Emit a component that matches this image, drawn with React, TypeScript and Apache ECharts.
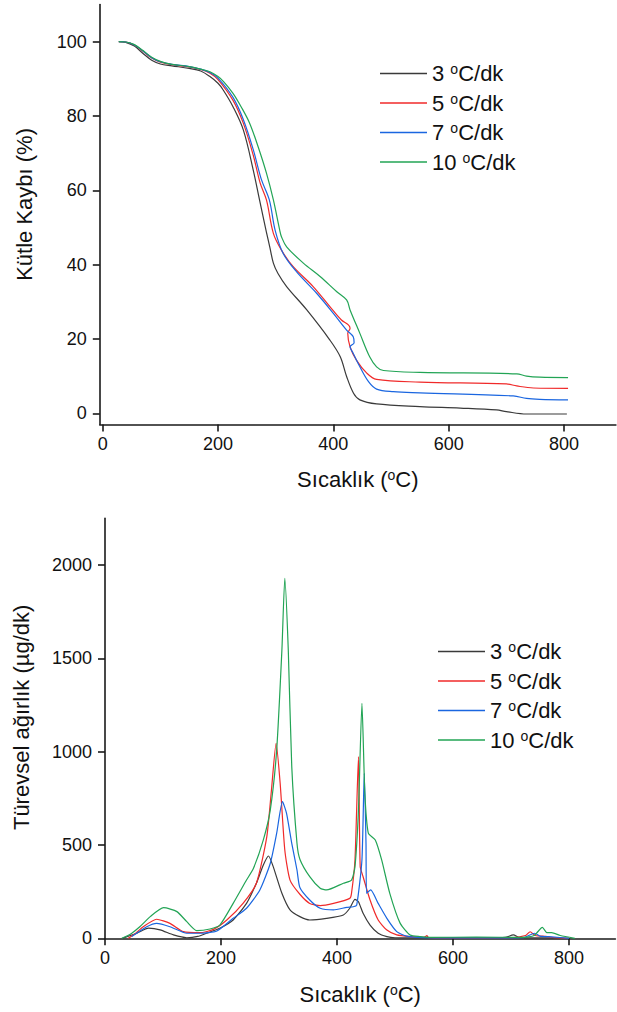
import React, { useEffect, useRef } from "react";
import * as echarts from "echarts";

// ---------- data ----------
const rateNames = ["3", "5", "7", "10"];
const lineColors = ["#3a3a3a", "#f02a2a", "#1a66e0", "#22a455"];

const xTicks = [0, 200, 400, 600, 800];
const tgaYTicks = [0, 20, 40, 60, 80, 100];
const dtgYTicks = [0, 500, 1000, 1500, 2000];

// TGA, mass loss (%)
const tga3: [number, number][] = [
  [28, 100], [40, 99.8], [55, 98.8], [70, 96.8], [85, 95.0], [100, 94.0], [120, 93.5], [150, 92.8],
  [170, 92.1], [186, 90.6], [200, 88.8], [209, 87.0], [226, 82.5], [244, 76.2], [261, 65.5], [272, 57.4],
  [284, 48.7], [290, 44.6], [296, 40.4], [304, 37.6], [319, 34.1], [354, 27.8], [394, 19.7], [412, 15.2], [423, 9.9],
  [435, 5.4], [446, 3.6], [475, 2.5], [550, 1.8], [620, 1.4], [683, 0.9], [700, 0.44], [735, -0.2], [805, -0.2],
];
const tga5: [number, number][] = [
  [28, 100], [40, 99.9], [55, 99.1], [70, 97.4], [85, 95.6], [100, 94.5], [120, 93.8], [150, 93.2],
  [170, 92.5], [186, 91.5], [200, 89.8], [226, 84.2], [244, 78.0], [261, 69.5], [273, 62.0], [284, 57.4],
  [296, 48.4], [310, 43.9], [330, 39.5], [365, 34.1], [394, 28.7], [414, 25.1], [426, 23.8], [429, 22.9],
  [425, 21.5], [429, 17.9], [440, 14.3], [458, 10.8], [475, 9.1], [550, 8.4], [700, 7.9], [718, 7.35],
  [747, 6.8], [807, 6.7],
];
const tga7: [number, number][] = [
  [28, 100], [40, 99.9], [55, 99.1], [70, 97.5], [85, 95.7], [100, 94.6], [120, 93.9], [150, 93.3],
  [170, 92.6], [186, 91.7], [200, 90.2], [226, 85.0], [244, 79.0], [261, 71.0], [275, 63.0], [289, 57.4],
  [299, 49.3], [313, 43.0], [336, 38.1], [371, 32.3], [400, 26.9], [423, 22.4], [434.5, 20.6], [436, 19.0],
  [429, 17.9], [434.5, 16.1], [446, 12.5], [461, 8.5], [475, 6.5], [504, 5.8], [550, 5.5], [712, 4.66],
  [735, 4.0], [758, 3.76], [807, 3.6],
];
const tga10: [number, number][] = [
  [28, 100], [40, 99.9], [55, 99.2], [70, 97.6], [85, 95.8], [100, 94.7], [120, 93.9], [150, 93.3],
  [170, 92.6], [186, 91.9], [200, 90.6], [210, 89.2], [226, 86.1], [240, 82.5], [255, 78.0], [270, 71.5],
  [284, 64.6], [296, 57.4], [307, 49.3], [310, 47.5], [319, 44.8], [348, 40.4], [377, 36.8], [406, 32.7],
  [423, 30.5], [429, 27.8], [446, 21.5], [463, 15.2], [475, 12.5], [487, 11.5], [550, 11.0], [718, 10.6],
  [735, 10.0], [758, 9.7], [807, 9.6],
];

// DTG, derivative weight (µg/dk)
const dtg3: [number, number][] = [
  [30, 0], [33, 3], [55, 27], [75, 54], [95, 45], [118, 18], [141, 3], [160, 10], [175, 27], [198, 54],
  [221, 98], [244, 187], [261, 295], [273, 393], [282, 441], [290, 384], [305, 241], [319, 152], [336, 116],
  [353, 98], [382, 107], [411, 125], [422, 161], [431, 209], [437, 196], [445, 134], [457, 71], [471, 27],
  [486, 9], [500, 3], [550, 2], [650, 3], [690, 5], [704, 18], [715, 4], [760, 2], [800, 0],
];
const dtg5: [number, number][] = [
  [40, 0], [50, 20], [66, 62], [89, 102], [112, 80], [135, 36], [164, 30], [187, 48], [210, 98], [238, 187],
  [261, 295], [279, 545], [287, 795], [295, 1045], [302, 831], [310, 473], [319, 312], [336, 236], [353, 187],
  [371, 175], [394, 187], [422, 214], [425, 241], [431, 420], [437, 973], [440, 384], [445, 330], [457, 205],
  [471, 98], [486, 44], [503, 18], [526, 9], [550, 5], [555, 14], [558, 3], [600, 2], [700, 3], [725, 15],
  [733, 35], [742, 15], [760, 10], [775, 3], [800, 0],
];
const dtg7: [number, number][] = [
  [46, 9], [52, 22], [72, 62], [89, 80], [112, 62], [141, 27], [164, 27], [193, 39], [221, 107], [244, 161],
  [267, 259], [285, 402], [296, 563], [306, 732], [313, 670], [322, 509], [331, 366], [336, 272], [353, 205],
  [371, 161], [394, 152], [417, 166], [428, 169], [434, 178], [443, 420], [447, 884], [450, 509], [451, 241],
  [458, 259], [471, 187], [486, 107], [503, 36], [520, 12], [550, 4], [650, 2], [720, 3], [741, 27], [750, 12],
  [770, 8], [800, 0],
];
const dtg10: [number, number][] = [
  [29, 0], [45, 25], [60, 62], [78, 116], [101, 164], [124, 143], [141, 89], [158, 41], [181, 50], [198, 71],
  [221, 187], [244, 312], [256, 375], [273, 527], [285, 688], [296, 1009], [305, 1545], [310, 1929], [316, 1545],
  [322, 920], [331, 509], [336, 424], [353, 330], [371, 268], [382, 259], [411, 295], [425, 312], [431, 384],
  [437, 688], [443, 1259], [448, 777], [454, 563], [466, 527], [477, 420], [491, 241], [509, 80], [526, 18],
  [543, 9], [560, 5], [640, 6], [720, 5], [740, 15], [754, 59], [762, 30], [770, 30], [785, 15], [810, 0],
];

const tgaSets = [tga3, tga5, tga7, tga10];
const dtgSets = [dtg3, dtg5, dtg7, dtg10];

// ---------- styles ----------
const FONT = "'Liberation Sans', Arial, sans-serif";
const AXIS_COLOR = "#1a1a1a";
const TEXT = "#111";
const supRich = {
  s: { fontSize: 14, fontFamily: FONT, color: TEXT, padding: [0, 0, 9, 0] },
  n: { fontSize: 22, fontFamily: FONT, color: TEXT },
};

function seriesName(i: number) {
  return rateNames[i] + " \u00B0C/dk";
}

function legendFormatter(name: string) {
  const num = name.split(" ")[0];
  return `{n|${num} }{s|o}{n|C/dk}`;
}

const plain = (v: number) => String(v);

function axisX(gridIndex: number, min: number, max: number, nameGap: number) {
  return {
    type: "value",
    gridIndex,
    min,
    max,
    name: "Sıcaklık ({s|o}C)",
    nameLocation: "middle",
    nameGap,
    nameTextStyle: { fontSize: 22, fontFamily: FONT, color: TEXT, rich: supRich },
    axisLine: { show: true, onZero: false, lineStyle: { color: AXIS_COLOR, width: 1.6 } },
    axisTick: { show: true, length: 7, customValues: xTicks, lineStyle: { color: AXIS_COLOR, width: 1.6 } },
    axisLabel: { fontSize: 18, fontFamily: FONT, color: TEXT, margin: 11, customValues: xTicks, formatter: plain },
    splitLine: { show: false },
  };
}

function axisY(
  gridIndex: number,
  min: number,
  max: number,
  ticks: number[],
  name: string,
  nameGap: number,
  shift: number
) {
  return {
    type: "value",
    gridIndex,
    min,
    max,
    name,
    nameLocation: "middle",
    nameGap,
    nameTextStyle: { fontSize: 22, fontFamily: FONT, color: TEXT, padding: [0, 0, 0, shift] },
    axisLine: { show: true, onZero: false, lineStyle: { color: AXIS_COLOR, width: 1.6 } },
    axisTick: { show: true, length: 7, customValues: ticks, lineStyle: { color: AXIS_COLOR, width: 1.6 } },
    axisLabel: { fontSize: 18, fontFamily: FONT, color: TEXT, margin: 13, customValues: ticks, formatter: plain },
    splitLine: { show: false },
  };
}

export default function App() {
  const ref = useRef<HTMLDivElement>(null);
  useEffect(() => {
    if (!ref.current) return;
    const chart = echarts.init(ref.current, undefined, { renderer: "svg" });
    const series: any[] = [];
    tgaSets.forEach((d, i) => {
      series.push({
        type: "line",
        name: seriesName(i),
        xAxisIndex: 0,
        yAxisIndex: 0,
        data: d,
        showSymbol: false,
        smooth: 0.35,
        lineStyle: { color: lineColors[i], width: 1.2 },
        itemStyle: { color: lineColors[i] },
        z: 2 + i,
      });
    });
    dtgSets.forEach((d, i) => {
      series.push({
        type: "line",
        name: seriesName(i) + " ",
        xAxisIndex: 1,
        yAxisIndex: 1,
        data: d,
        showSymbol: false,
        smooth: 0.2,
        lineStyle: { color: lineColors[i], width: 1.2 },
        itemStyle: { color: lineColors[i] },
        z: 2 + i,
      });
    });
    const legendCommon = {
      orient: "vertical",
      icon: "rect",
      itemWidth: 47,
      itemHeight: 1.4,
      itemGap: 7,
      padding: 0,
      selectedMode: false,
      textStyle: { fontSize: 22, fontFamily: FONT, color: TEXT, rich: supRich },
      formatter: legendFormatter,
    };
    chart.setOption({
      animation: false,
      backgroundColor: "#ffffff",
      grid: [
        { left: 99.8, width: 516.1, top: 4.5, height: 419.9 },
        { left: 105, width: 510.4, top: 518.4, height: 419.9 },
      ],
      xAxis: [axisX(0, -5, 890, 44), axisX(1, 0, 880, 45)],
      yAxis: [
        axisY(0, -3, 110, tgaYTicks, "Kütle Kaybı (%)", 64, 20),
        axisY(1, 0, 2250, dtgYTicks, "Türevsel ağırlık (µg/dk)", 73, 22),
      ],
      legend: [
        { ...legendCommon, left: 380, top: 62, data: rateNames.map((_, i) => seriesName(i)) },
        { ...legendCommon, left: 438, top: 640, data: rateNames.map((_, i) => seriesName(i) + " ") },
      ],
      series,
    });
    return () => chart.dispose();
  }, []);
  return (
    <div
      ref={ref}
      style={{ position: "absolute", left: 0, top: 0, width: 617, height: 1012, background: "#fff" }}
    />
  );
}
